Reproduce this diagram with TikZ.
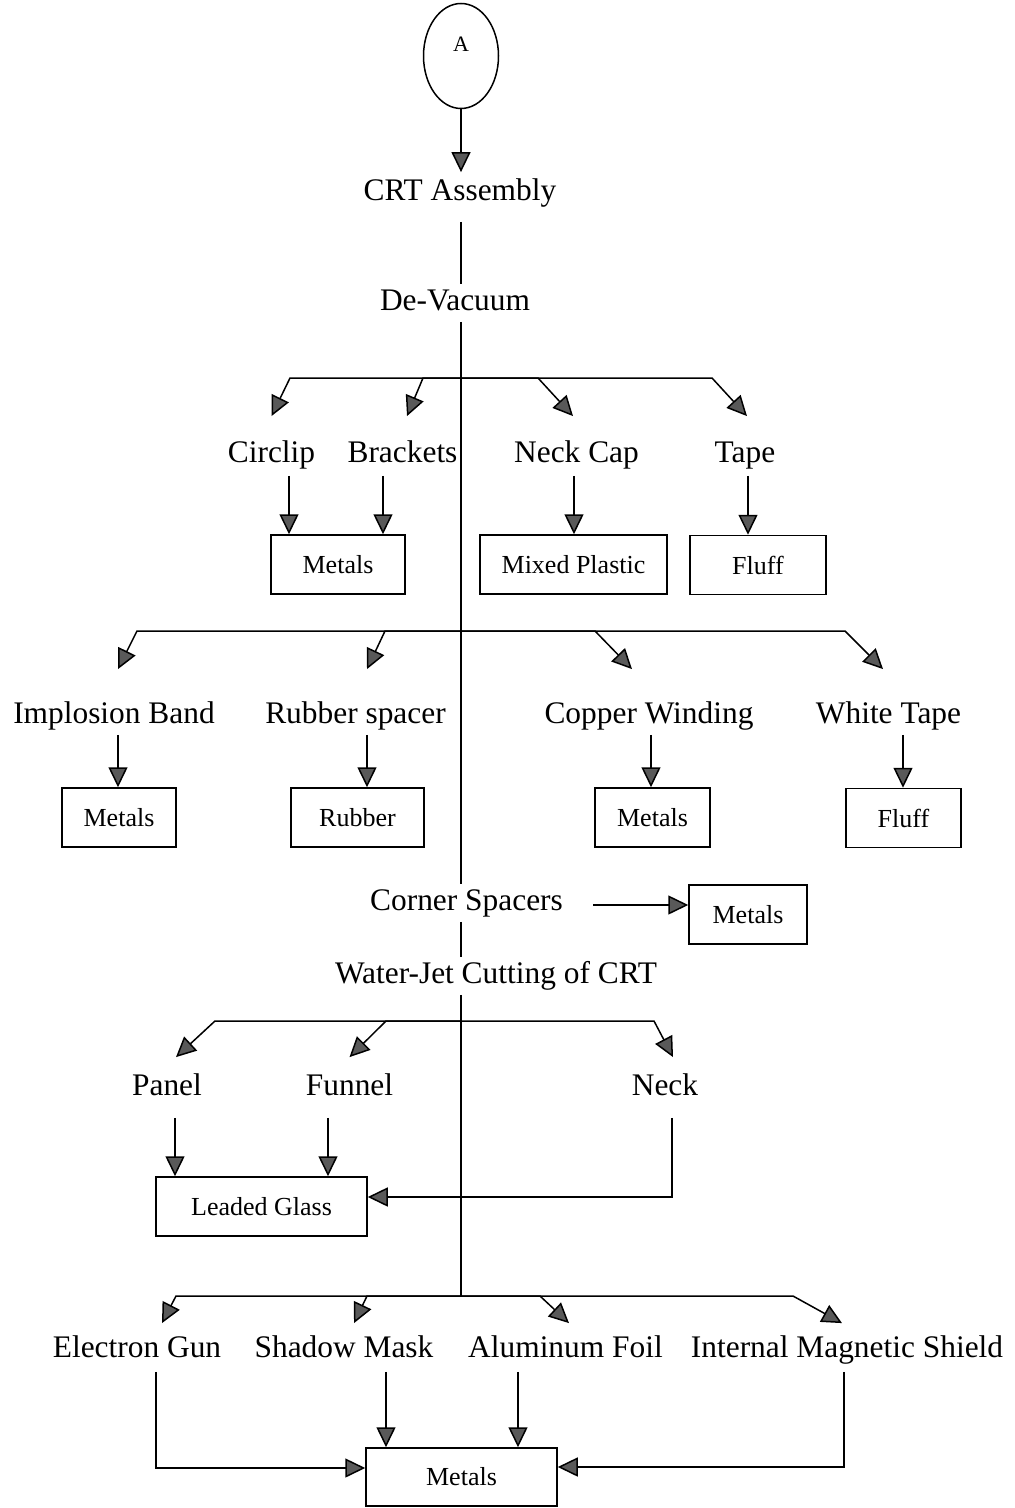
\documentclass[tikz,border=0pt]{standalone}
\usepackage{fontspec}
\setmainfont{Liberation Serif}
\usetikzlibrary{arrows.meta,shapes.geometric}

\begin{document}
\begin{tikzpicture}[x=0.5pt,y=-0.5pt,
  lbl/.style={inner sep=2pt,text height=11pt,text depth=3.5pt,yshift=-1.5pt,font=\fontsize{15.7}{18}\selectfont},
  box/.style={draw,line width=0.75pt,minimum height=29.5pt,inner sep=2pt,font=\fontsize{13}{15}\selectfont},
  arr/.style={-{Triangle[length=10pt,width=9.5pt,fill=black!65]},line width=0.75pt},
  ln/.style={line width=0.75pt}]
\useasboundingbox (0,0) rectangle (1014,1508);

% start, trunk labels
\node[draw,ellipse,line width=0.75pt,minimum width=37.5pt,minimum height=52.5pt,inner sep=0pt,
  font=\fontsize{11}{13}\selectfont,text height=7pt,text depth=11pt] (start) at (461,56) {A};
\node[lbl] (crt) at (460,190) {CRT Assembly};
\node[lbl] (devac) at (455,300) {De-Vacuum};
\node[lbl] (corner) at (466.5,900) {Corner Spacers};
\node[lbl] (water) at (496,973) {Water-Jet Cutting of CRT};
\coordinate (b1) at (461,378);
\coordinate (b2) at (461,631);
\coordinate (b3) at (461,1021);
\coordinate (b4) at (461,1296);

\draw[arr,shorten >=1pt] (start.south) -- (start.south |- crt.north);
\draw[ln,shorten <=5pt] (b1 |- crt.south) -- (b1 |- devac.north);
\draw[ln] (b1 |- devac.south) -- (b1 |- corner.north);
\draw[ln] (b1 |- corner.south) -- (b1 |- water.north);
\draw[ln] (b1 |- water.south) -- (b4);

% first group
\node[lbl] (circlip) at (271.5,452) {Circlip};
\node[lbl] (brackets) at (402.5,452) {Brackets};
\node[lbl] (neckcap) at (576.5,452) {Neck Cap};
\node[lbl] (tape) at (745,452) {Tape};
\node[box,minimum width=67pt] (metA) at (338,564.5) {Metals};
\node[box,minimum width=93.5pt] (plastic) at (573.5,564.5) {Mixed Plastic};
\node[box,minimum width=68pt] (fluffA) at (758,565) {Fluff};

\draw[arr] (b1) -- (290,378) -- ([yshift=10pt]circlip.north);
\draw[arr] (b1) -- (423,378) -- ([xshift=2.25pt,yshift=10pt]brackets.north);
\draw[arr] (b1) -- (538,378) -- ([xshift=-1.75pt,yshift=10pt]neckcap.north);
\draw[arr] (b1) -- (712,378) -- ([xshift=1pt,yshift=10pt]tape.north);

\draw[arr,shorten <=1pt] ([xshift=8.75pt]circlip.south) -- ([xshift=8.75pt]circlip.south |- metA.north);
\draw[arr,shorten <=1pt] ([xshift=-9.75pt]brackets.south) -- ([xshift=-9.75pt]brackets.south |- metA.north);
\draw[arr,shorten <=1pt] ([xshift=-1.25pt]neckcap.south) -- ([xshift=-1.25pt]neckcap.south |- plastic.north);
\draw[arr,shorten <=1pt] ([xshift=1.5pt]tape.south) -- ([xshift=1.5pt]tape.south |- fluffA.north);

% second group
\node[lbl] (implosion) at (114,713) {Implosion Band};
\node[lbl] (rubber) at (355.5,713) {Rubber spacer};
\node[lbl] (copper) at (649,713) {Copper Winding};
\node[lbl] (white) at (888.5,713) {White Tape};
\node[box,minimum width=57pt] (metB) at (119,817.5) {Metals};
\node[box,minimum width=66.5pt] (rubberbox) at (357.5,817.5) {Rubber};
\node[box,minimum width=57.5pt] (metC) at (652.5,817.5) {Metals};
\node[box,minimum width=57.5pt] (fluffB) at (903.5,818) {Fluff};

\draw[arr] (b2) -- (137,631) -- ([xshift=2pt,yshift=14pt]implosion.north);
\draw[arr] (b2) -- (385,631) -- ([xshift=5.75pt,yshift=14pt]rubber.north);
\draw[arr] (b2) -- (595,631) -- ([xshift=-8.5pt,yshift=14pt]copper.north);
\draw[arr] (b2) -- (845,631) -- ([xshift=-2.75pt,yshift=14pt]white.north);

\draw[arr] ([xshift=2pt]implosion.south) -- ([xshift=2pt]implosion.south |- metB.north);
\draw[arr] ([xshift=5.75pt]rubber.south) -- ([xshift=5.75pt]rubber.south |- rubberbox.north);
\draw[arr] ([xshift=1pt]copper.south) -- ([xshift=1pt]copper.south |- metC.north);
\draw[arr] ([xshift=7.25pt]white.south) -- ([xshift=7.25pt]white.south |- fluffB.north);

% corner spacers
\node[box,minimum width=59pt] (metD) at (748,914.5) {Metals};
\draw[arr,shorten <=13pt] ([yshift=-1pt]corner.east) -- ([yshift=4.75pt]metD.west);

% cutting of CRT
\node[lbl] (panel) at (167,1085) {Panel};
\node[lbl] (funnel) at (349.5,1085) {Funnel};
\node[lbl] (neck) at (665,1085) {Neck};
\node[box,minimum width=105.5pt] (glass) at (261.5,1206.5) {Leaded Glass};

\draw[arr] (b3) -- (215,1021) -- ([xshift=4.5pt,yshift=6pt]panel.north);
\draw[arr] (b3) -- (386,1021) -- ([yshift=6pt]funnel.north);
\draw[arr] (b3) -- (654,1021) -- ([xshift=4pt,yshift=6pt]neck.north);

\draw[arr,shorten <=5.5pt] ([xshift=4pt]panel.south) -- ([xshift=4pt]panel.south |- glass.north);
\draw[arr,shorten <=5.5pt] ([xshift=-10.75pt]funnel.south) -- ([xshift=-10.75pt]funnel.south |- glass.north);
\draw[arr,shorten <=5.5pt] ([xshift=3.5pt]neck.south) |- ([yshift=4.75pt]glass.east);

% last group
\node[lbl] (egun) at (137,1347) {Electron Gun};
\node[lbl] (shadow) at (344,1347) {Shadow Mask};
\node[lbl] (alu) at (565.5,1347) {Aluminum Foil};
\node[lbl] (ims) at (847,1347) {Internal Magnetic Shield};
\node[box,minimum width=95.5pt,minimum height=29pt] (metE) at (461.5,1477) {Metals};

\draw[arr] (b4) -- (176,1296) -- ([xshift=12.5pt,yshift=4pt]egun.north);
\draw[arr] (b4) -- (367,1296) -- ([xshift=5pt,yshift=4pt]shadow.north);
\draw[arr] (b4) -- (540,1296) -- ([xshift=1.75pt,yshift=4pt]alu.north);
\draw[arr] (b4) -- (793,1296) -- ([xshift=-2.5pt,yshift=4pt]ims.north);

\draw[arr,shorten <=1.5pt] ([xshift=9.5pt]egun.south) |- ([yshift=4.5pt]metE.west);
\draw[arr,shorten <=1.5pt] ([xshift=21pt]shadow.south) -- ([xshift=21pt]shadow.south |- metE.north);
\draw[arr,shorten <=1.5pt] ([xshift=-23.75pt]alu.south) -- ([xshift=-23.75pt]alu.south |- metE.north);
\draw[arr,shorten <=1.5pt] ([xshift=-1.5pt]ims.south) |- ([yshift=5pt]metE.east);
\end{tikzpicture}
\end{document}
